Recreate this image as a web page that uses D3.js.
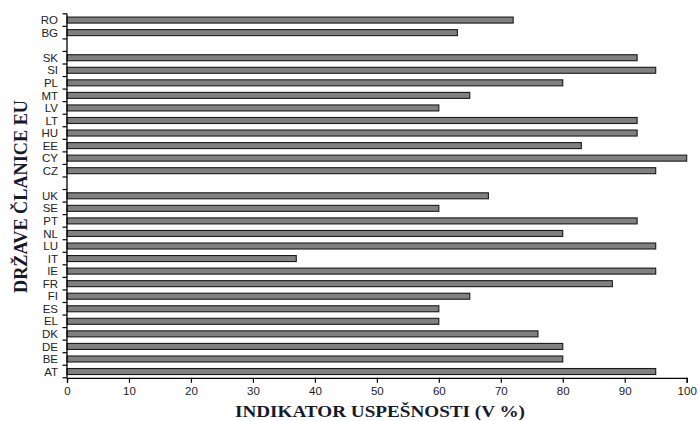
<!DOCTYPE html>
<html><head><meta charset="utf-8">
<script src="https://cdn.jsdelivr.net/npm/d3@7"></script>
<style>body{margin:0;background:#fff}svg{display:block}</style>
</head><body>
<svg id="c" width="699" height="421"></svg>
<script>
// slots from top to bottom; "" marks an empty gap slot
const categories = ["RO","BG","","SK","SI","PL","MT","LV","LT","HU","EE","CY","CZ","","UK","SE","PT","NL","LU","IT","IE","FR","FI","ES","EL","DK","DE","BE","AT"];
const values =     [72,  63,  null,92, 95,  80,  65,  60,  92,  92,  83,  100, 95, null,68,  60,  92,  80,  95,  37,  95,  88,  65,  60,  60,  76,  80,  80,  95];
const xTicks = [0,10,20,30,40,50,60,70,80,90,100];
const xTitle = "INDIKATOR USPEŠNOSTI (V %)";
const yTitle = "DRŽAVE ČLANICE EU";

const svg = d3.select("#c");
const L = 67, R = 686.7, T = 13.8, B = 377.8;
const slots = categories.map((c,i)=>i);
const x = d3.scaleLinear().domain([0,100]).range([L,R]);
const y = d3.scaleBand().domain(slots).range([T,B]).paddingInner(0).paddingOuter(0);

// bars
const bh = 6;
svg.append("g").selectAll("rect")
  .data(slots.filter(i=>values[i]!=null))
  .join("rect")
  .attr("x", x(0))
  .attr("y", i => y(i) + y.bandwidth()/2 - bh/2)
  .attr("width", i => x(values[i]) - x(0))
  .attr("height", bh)
  .attr("fill", "#808080")
  .attr("stroke", "#1a1a1a")
  .attr("stroke-width", 1.1);

// y axis: ticks at band boundaries
const yg = svg.append("g");
const bounds = d3.range(categories.length+1).map(k => T + k*y.step());
yg.append("line").attr("x1",L).attr("x2",L).attr("y1",T).attr("y2",B).attr("stroke","#000").attr("stroke-width",1.3);
yg.selectAll("line.t").data(bounds).join("line").attr("class","t")
  .attr("x1",L-4.5).attr("x2",L).attr("y1",d=>d).attr("y2",d=>d).attr("stroke","#000").attr("stroke-width",1.2);
yg.selectAll("text").data(slots.filter(i=>categories[i]!=="")).join("text")
  .attr("x", L-9)
  .attr("y", i => y(i) + y.bandwidth()/2)
  .attr("dy","0.36em")
  .attr("text-anchor","end")
  .attr("font-family","Liberation Sans, Arial, sans-serif")
  .attr("font-size","11.5px")
  .attr("fill","#222")
  .text(i => categories[i]);

// x axis
const xg = svg.append("g").attr("transform",`translate(0,${B})`)
  .call(d3.axisBottom(x).tickValues(xTicks).tickSize(5).tickPadding(4).tickFormat(d3.format("d")));
xg.select(".domain").attr("stroke","#000").attr("stroke-width",1.3);
xg.selectAll(".tick line").attr("stroke","#000").attr("stroke-width",1.2);
xg.selectAll("text").attr("font-family","Liberation Sans, Arial, sans-serif").attr("font-size","11.5px").attr("fill","#222");

// titles
svg.append("text").attr("x",(235+525)/2).attr("y",416.5)
  .attr("text-anchor","middle")
  .attr("font-family","Liberation Serif, Times New Roman, serif")
  .attr("font-weight","bold").attr("font-size","17.5px").attr("fill","#151a2a")
  .attr("textLength",290).attr("lengthAdjust","spacingAndGlyphs")
  .text(xTitle);
svg.append("text").attr("transform","translate(26.5,196.5) rotate(-90)")
  .attr("text-anchor","middle")
  .attr("font-family","Liberation Serif, Times New Roman, serif")
  .attr("font-weight","bold").attr("font-size","19px").attr("fill","#151a2a")
  .attr("textLength",193).attr("lengthAdjust","spacingAndGlyphs")
  .text(yTitle);
</script>
</body></html>
